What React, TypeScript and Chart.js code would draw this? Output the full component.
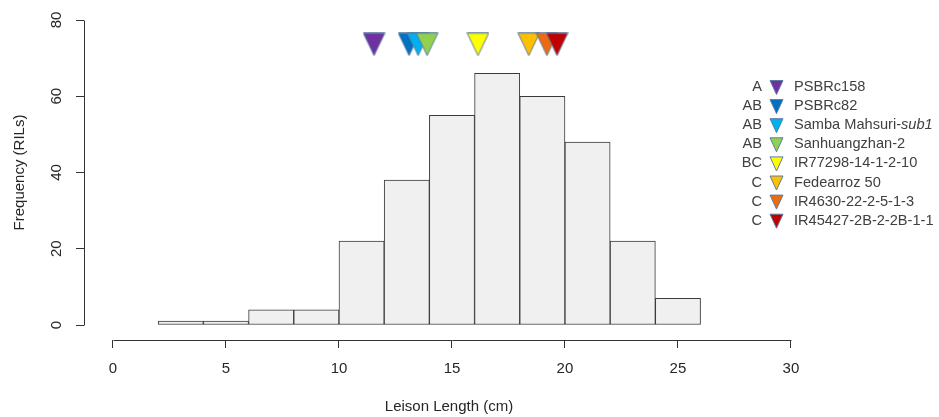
import React, { useEffect, useRef } from "react";
import { Chart, registerables } from "chart.js";

Chart.register(...registerables);

// ---- data ----
const binStarts = [2, 4, 6, 8, 10, 12, 14, 16, 18, 20, 22, 24];
const binWidth = 2;
const frequencies = [1, 1, 4, 4, 22, 38, 55, 66, 60, 48, 22, 7];
const xTicks = [0, 5, 10, 15, 20, 25, 30];
const yTicks = [0, 20, 40, 60, 80];
const xTitle = "Leison Length (cm)";
const yTitle = "Frequency (RILs)";

const varieties = [
  "PSBRc158",
  "PSBRc82",
  "Samba Mahsuri-sub1",
  "Sanhuangzhan-2",
  "IR77298-14-1-2-10",
  "Fedearroz 50",
  "IR4630-22-2-5-1-3",
  "IR45427-2B-2-2B-1-1",
];
const groups = ["A", "AB", "AB", "AB", "BC", "C", "C", "C"];
const meanLength = [11.55, 13.1, 13.5, 13.9, 16.15, 18.4, 19.2, 19.65];
const markerLevel = [73.6, 73.6, 73.6, 73.6, 73.6, 73.6, 73.6, 73.6];
const colors = [
  "#7030A0",
  "#0070C0",
  "#00B0F0",
  "#92D050",
  "#FFFF00",
  "#FFC000",
  "#EE6A10",
  "#C00000",
];

// ---- styling constants ----
const FONT = "'Liberation Sans', Arial, sans-serif";
const TEXT = "#262626";
const AXIS = "#333333";
const OUTLINE = "#5A7DA3";

function makeTriangle(color: string, w: number, h: number): HTMLCanvasElement {
  const c = document.createElement("canvas");
  c.width = w;
  c.height = h;
  const g = c.getContext("2d")!;
  g.beginPath();
  g.moveTo(0.75, 0.75);
  g.lineTo(w - 0.75, 0.75);
  g.lineTo(w / 2, h - 0.75);
  g.closePath();
  g.fillStyle = color;
  g.fill();
  g.strokeStyle = OUTLINE;
  g.lineWidth = 1;
  g.stroke();
  return c;
}

function drawTriangle(ctx: CanvasRenderingContext2D, cx: number, cy: number, w: number, h: number, color: string) {
  ctx.beginPath();
  ctx.moveTo(cx - w / 2, cy - h / 2);
  ctx.lineTo(cx + w / 2, cy - h / 2);
  ctx.lineTo(cx, cy + h / 2);
  ctx.closePath();
  ctx.fillStyle = color;
  ctx.fill();
  ctx.strokeStyle = OUTLINE;
  ctx.lineWidth = 1;
  ctx.stroke();
}

const rPlugin = {
  id: "rStyle",
  afterDraw(chart: any) {
    const ctx: CanvasRenderingContext2D = chart.ctx;
    const xs = chart.scales.x;
    const ys = chart.scales.y;
    const area = chart.chartArea;
    ctx.save();
    // axis lines spanning only the tick range (R style)
    ctx.strokeStyle = AXIS;
    ctx.lineWidth = 1;
    const yLine = Math.round(area.bottom) + 0.5;
    ctx.beginPath();
    ctx.moveTo(Math.round(xs.getPixelForValue(xTicks[0])) + 0.5, yLine);
    ctx.lineTo(Math.round(xs.getPixelForValue(xTicks[xTicks.length - 1])) + 0.5, yLine);
    ctx.stroke();
    const xLine = Math.round(area.left) + 0.5;
    ctx.beginPath();
    ctx.moveTo(xLine, Math.round(ys.getPixelForValue(yTicks[0])) + 0.5);
    ctx.lineTo(xLine, Math.round(ys.getPixelForValue(yTicks[yTicks.length - 1])) + 0.5);
    ctx.stroke();

    // y axis title, centred on the plot region like R
    ctx.save();
    ctx.translate(20, (ys.getPixelForValue(-3.2) + ys.getPixelForValue(83.2)) / 2);
    ctx.rotate(-Math.PI / 2);
    ctx.font = `15px ${FONT}`;
    ctx.fillStyle = TEXT;
    ctx.textAlign = "center";
    ctx.textBaseline = "middle";
    ctx.fillText(yTitle, 0, 0);
    ctx.restore();

    // legend
    const rowTop = 87;
    const rowStep = 19.1;
    const letterRight = area.right - 52;
    const triX = area.right - 37.5;
    const textX = area.right - 20;
    ctx.textBaseline = "middle";
    const fs = 14.6;
    for (let i = 0; i < varieties.length; i++) {
      const y = rowTop + i * rowStep;
      ctx.fillStyle = "#404040";
      ctx.font = `${fs}px ${FONT}`;
      ctx.textAlign = "right";
      ctx.fillText(groups[i], letterRight, y);
      drawTriangle(ctx, triX, y + 0.5, 13, 14, colors[i]);
      ctx.textAlign = "left";
      ctx.fillStyle = "#404040";
      const m = varieties[i].match(/^(.*-)(sub1)$/);
      if (m) {
        ctx.font = `${fs}px ${FONT}`;
        ctx.fillText(m[1], textX, y);
        const w = ctx.measureText(m[1]).width;
        ctx.font = `italic ${fs}px ${FONT}`;
        ctx.fillText(m[2], textX + w, y);
      } else {
        ctx.font = `${fs}px ${FONT}`;
        ctx.fillText(varieties[i], textX, y);
      }
    }
    ctx.restore();
  },
};

export default function App() {
  const ref = useRef<HTMLCanvasElement | null>(null);

  useEffect(() => {
    document.body.style.margin = "0";
    const canvas = ref.current!;
    const images = colors.map((c) => makeTriangle(c, 23, 24));
    const chart = new Chart(canvas, {
      data: {
        datasets: [
          {
            type: "scatter",
            data: meanLength.map((x, i) => ({ x, y: markerLevel[i] })),
            pointStyle: images as any,
            pointRadius: 12,
            pointHoverRadius: 12,
          } as any,
          {
            type: "bar",
            data: binStarts.map((s, i) => ({ x: s + binWidth / 2, y: frequencies[i] })),
            backgroundColor: "#F0F0F0",
            borderColor: "#3a3a3a",
            borderWidth: 1,
            borderSkipped: false,
            barPercentage: 1,
            categoryPercentage: 1,
            grouped: false,
          } as any,
        ],
      },
      options: {
        responsive: false,
        maintainAspectRatio: false,
        animation: false,
        devicePixelRatio: 1,
        layout: { padding: { top: 20, right: 125, left: 0, bottom: 0 } },
        plugins: { legend: { display: false }, tooltip: { enabled: false } },
        events: [],
        scales: {
          x: {
            type: "linear",
            offset: false,
            min: -1.283,
            max: 31.02,
            afterBuildTicks: (s: any) => {
              s.ticks = xTicks.map((v) => ({ value: v }));
            },
            afterFit: (s: any) => {
              s.height = 77;
            },
            border: { display: false },
            grid: { offset: false, drawOnChartArea: false, drawTicks: true, tickLength: 8, color: AXIS, lineWidth: 1 },
            ticks: {
              autoSkip: false,
              maxRotation: 0,
              padding: 12,
              color: TEXT,
              font: { family: FONT, size: 15 },
            },
            title: {
              display: true,
              text: xTitle,
              color: TEXT,
              font: { family: FONT, size: 15 },
              padding: { top: 0, bottom: 1 },
            },
          },
          y: {
            type: "linear",
            min: -3.934,
            max: 80,
            afterBuildTicks: (s: any) => {
              s.ticks = yTicks.map((v) => ({ value: v }));
            },
            afterFit: (s: any) => {
              s.width = 84;
            },
            border: { display: false },
            grid: { drawOnChartArea: false, drawTicks: true, tickLength: 8, color: AXIS, lineWidth: 1 },
            ticks: {
              autoSkip: false,
              minRotation: 90,
              maxRotation: 90,
              crossAlign: "center",
              padding: 11,
              color: TEXT,
              font: { family: FONT, size: 15 },
            },
            title: { display: false },
          },
        },
      } as any,
      plugins: [rPlugin],
    });
    return () => chart.destroy();
  }, []);

  return (
    <div style={{ width: 939, height: 417 }}>
      <canvas ref={ref} width={939} height={417} style={{ display: "block" }} />
    </div>
  );
}
